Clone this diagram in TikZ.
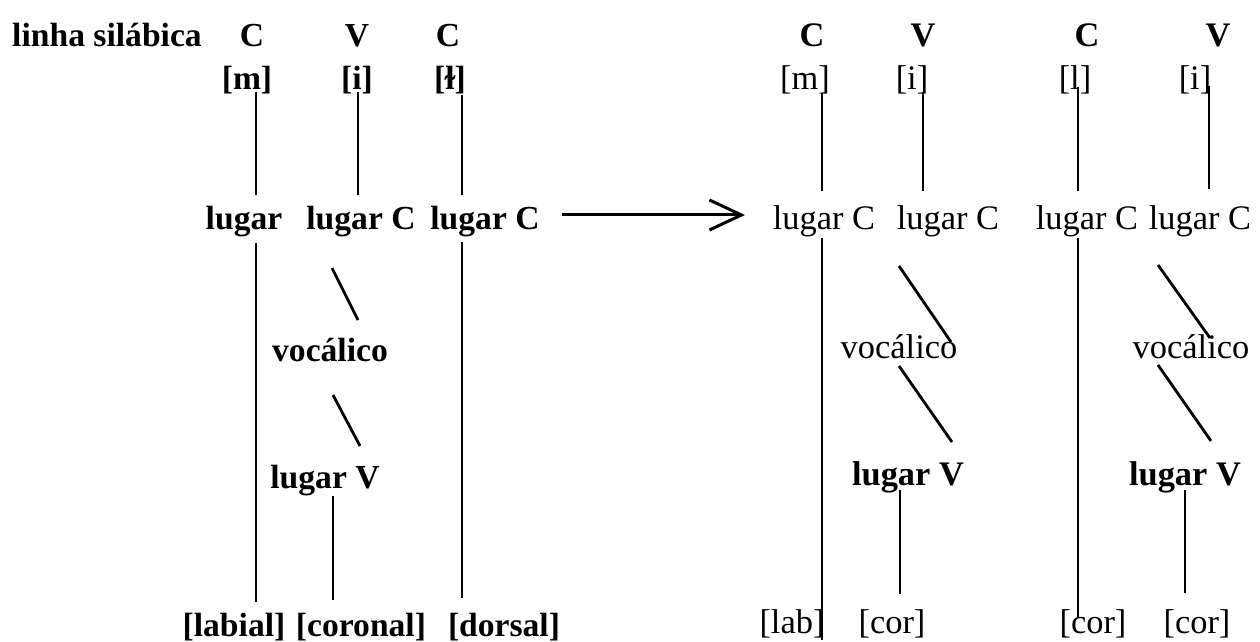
\documentclass[tikz,border=0pt]{standalone}
\usepackage{fontspec}
\setmainfont{Liberation Serif}
\usetikzlibrary{calc,arrows.meta}
\begin{document}
\begin{tikzpicture}[x=0.5pt,y=-0.5pt,
  lb/.style={anchor=base,inner sep=0pt,font=\fontsize{16.8}{20}\selectfont\bfseries},
  rr/.style={anchor=base,inner sep=0pt,font=\fontsize{17.2}{20}\selectfont},
  rb/.style={anchor=base,inner sep=0pt,font=\fontsize{17.2}{20}\selectfont\bfseries},
  edge/.style={line width=1.4pt},
  arr/.style={line width=1.5pt,-{Straight Barb[length=16pt,width=15pt,line width=1.5pt]}}]
\useasboundingbox (0,0) rectangle (1260,642);
% left tree
\node[lb] (ls) at (107,47) {linha silábica};
\node[lb] (c1) at (252,47) {C};
\node[lb] (v1) at (357,47) {V};
\node[lb] (c2) at (448,47) {C};
\node[lb] (m1) at (247,90) {[m]};
\node[lb] (i1) at (357,90) {[i]};
\node[lb] (l1) at (450,90) {[ɫ]};
\node[lb] (lg1) at (244,230) {lugar};
\node[lb] (lg2) at (361,230) {lugar C};
\node[lb] (lg3) at (485,230) {lugar C};
\node[lb] (voc) at (330,361) {vocálico};
\node[lb] (lv) at (325,488) {lugar V};
\node[lb] (lab) at (234,636) {[labial]};
\node[lb] (cor) at (361,636) {[coronal]};
\node[lb] (dor) at (504,636) {[dorsal]};
\draw[edge] ($(m1.base)+(9,2)$) -- ($(lg1.base)+(12,-35)$);
\draw[edge] ($(lg1.base)+(12,13)$) -- ($(lab.base)+(22,-34)$);
\draw[edge] ($(i1.base)+(1,2)$) -- ($(lg2.base)+(-3,-35)$);
\draw[edge] ($(l1.base)+(12,5)$) -- ($(lg3.base)+(-23,-35)$);
\draw[edge] ($(lg3.base)+(-23,12)$) -- ($(dor.base)+(-42,-38)$);
\draw[edge] ($(lg2.base)+(-29,38)$) -- ($(voc.base)+(28,-41)$);
\draw[edge] ($(voc.base)+(3,34)$) -- ($(lv.base)+(35,-42)$);
\draw[edge] ($(lv.base)+(8,8)$) -- ($(cor.base)+(-28,-36)$);
% right tree
\node[rb] (rc1) at (812,47) {C};
\node[rb] (rv1) at (923,47) {V};
\node[rb] (rc2) at (1087,47) {C};
\node[rb] (rv2) at (1218,47) {V};
\node[rr] (rm) at (805,90) {[m]};
\node[rr] (ri1) at (912,90) {[i]};
\node[rr] (rl) at (1075,90) {[l]};
\node[rr] (ri2) at (1195,90) {[i]};
\node[rr] (rl1) at (824,230) {lugar C};
\node[rr] (rl2) at (948,230) {lugar C};
\node[rr] (rl3) at (1087,230) {lugar C};
\node[rr] (rl4) at (1200,230) {lugar C};
\node[rr] (rvo1) at (899,358) {vocálico};
\node[rr] (rvo2) at (1191,358) {vocálico};
\node[rb] (rlv1) at (908,485) {lugar V};
\node[rb] (rlv2) at (1185,485) {lugar V};
\node[rr] (rlab) at (792,633) {[lab]};
\node[rr] (rcor1) at (892,633) {[cor]};
\node[rr] (rcor2) at (1093,633) {[cor]};
\node[rr] (rcor3) at (1197,633) {[cor]};
\draw[edge] ($(rm.base)+(17,3)$) -- ($(rl1.base)+(-2,-39)$);
\draw[edge] ($(rl1.base)+(-2,8)$) -- ($(rlab.base)+(30,7)$);
\draw[edge] ($(ri1.base)+(11,2)$) -- ($(rl2.base)+(-25,-39)$);
\draw[edge] ($(rl.base)+(3,-3)$) -- ($(rl3.base)+(-9,-39)$);
\draw[edge] ($(rl3.base)+(-9,8)$) -- ($(rcor2.base)+(-15,-15)$);
\draw[edge] ($(ri2.base)+(14,-4)$) -- ($(rl4.base)+(9,-41)$);
\draw[edge] ($(rl2.base)+(-49,36)$) -- ($(rvo1.base)+(52,-16)$);
\draw[edge] ($(rvo1.base)+(0,8)$) -- ($(rlv1.base)+(44,-43)$);
\draw[edge] ($(rl4.base)+(-42,35)$) -- ($(rvo2.base)+(19,-20)$);
\draw[edge] ($(rvo2.base)+(-33,7)$) -- ($(rlv2.base)+(26,-44)$);
\draw[edge] ($(rlv1.base)+(-8,5)$) -- ($(rcor1.base)+(8,-39)$);
\draw[edge] ($(rlv2.base)+(0,5)$) -- ($(rcor3.base)+(-12,-40)$);
% arrow
\draw[arr] ($(lg3.base)+(77,-15)$) -- ($(rl1.base)+(-79,-15)$);
\end{tikzpicture}
\end{document}
